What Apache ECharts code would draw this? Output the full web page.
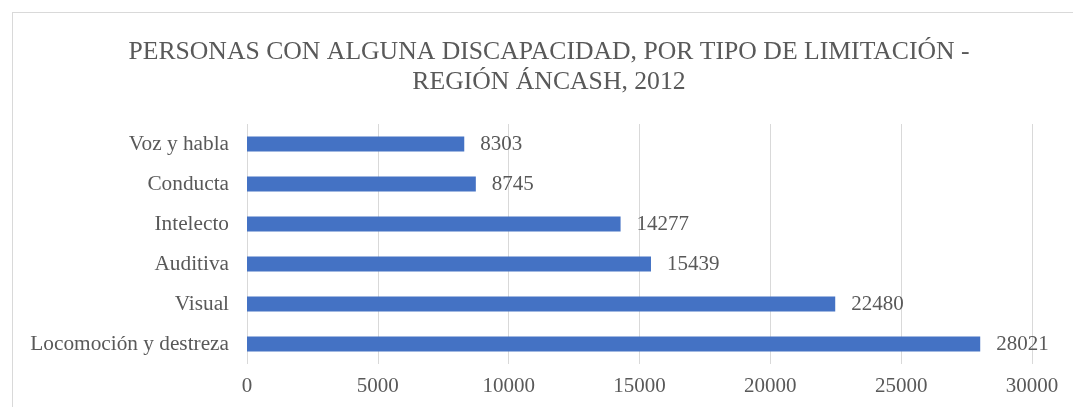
<!DOCTYPE html>
<html>
<head>
<meta charset="utf-8">
<script src="https://cdn.jsdelivr.net/npm/echarts@6/dist/echarts.min.js"></script>
<style>
  html, body { margin: 0; padding: 0; background: #fff; }
  #main { width: 1073px; height: 407px; }
  #marco { position: absolute; left: 12px; top: 12px; width: 1100px; height: 420px; border: 1px solid #d9d9d9; pointer-events: none; }
</style>
</head>
<body>
<div id="main"></div>
<div id="marco"></div>
<script>
// datos del gráfico
var categorias = ['Locomoción y destreza', 'Visual', 'Auditiva', 'Intelecto', 'Conducta', 'Voz y habla'];
var valores = [28021, 22480, 15439, 14277, 8745, 8303];
var ticks = [0, 5000, 10000, 15000, 20000, 25000, 30000];

var fuente = '"Liberation Serif", "Times New Roman", serif';
var gris = '#595959';

var myChart = echarts.init(document.getElementById('main'));

var option = {
    title: {
        text: 'PERSONAS CON ALGUNA DISCAPACIDAD, POR TIPO DE LIMITACIÓN -\nREGIÓN ÁNCASH, 2012',
        left: 544,
        top: 32,
        textAlign: 'center',
        textStyle: {
            fontFamily: fuente,
            fontWeight: 'normal',
            fontSize: 25.7,
            lineHeight: 30,
            color: gris
        }
    },
    grid: {
        left: 247,
        right: 41,
        top: 124,
        bottom: 43
    },
    xAxis: {
        type: 'value',
        min: ticks[0],
        max: ticks[ticks.length - 1],
        interval: 5000,
        axisLine: { show: false },
        axisTick: { show: false },
        axisLabel: {
            fontFamily: fuente,
            fontSize: 21,
            color: gris,
            margin: 12,
            formatter: function (v) { return String(v); }
        },
        splitLine: { lineStyle: { color: '#d9d9d9', width: 1 } }
    },
    yAxis: {
        type: 'category',
        data: categorias,
        axisLine: { show: false },
        axisTick: { show: false },
        axisLabel: {
            fontFamily: fuente,
            fontSize: 21.3,
            color: gris,
            margin: 18
        }
    },
    series: [{
        type: 'bar',
        data: valores,
        barWidth: 15,
        itemStyle: { color: '#4472c4' },
        label: {
            show: true,
            position: 'right',
            distance: 16,
            fontFamily: fuente,
            fontSize: 21,
            color: gris
        }
    }]
};

myChart.setOption(option);
</script>
</body>
</html>
